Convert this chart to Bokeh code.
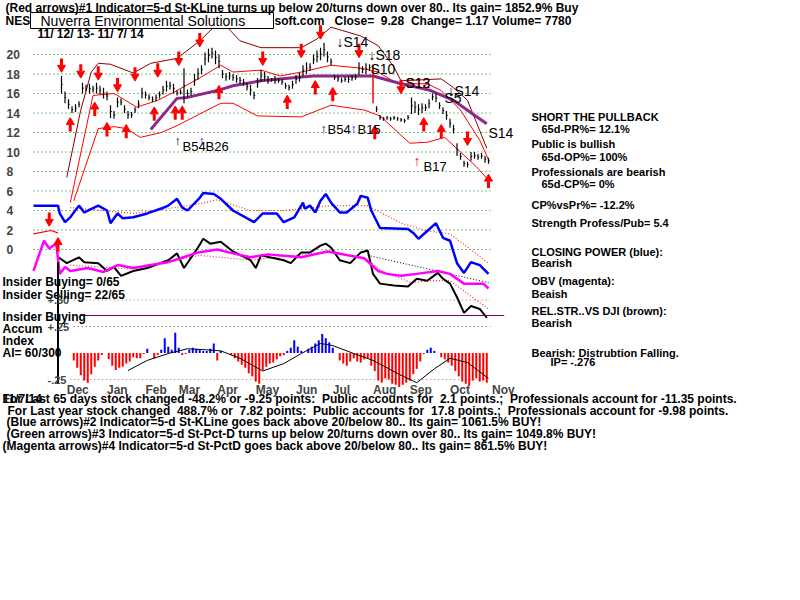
from bokeh.plotting import figure
from bokeh.models import Range1d, Label, LabelSet, ColumnDataSource
from bokeh.embed import file_html
from bokeh.resources import INLINE
from bokeh.core.properties import value

# ---------------- data (x = trading-day index, price panel in $) ----------------
bar_first_day = 16
bar_step = 2
price_low_high = [
    (16.0, 17.8), (15.0, 16.2), (14.4, 15.4), (14.0, 14.7), (14.1, 14.9), (14.6, 15.2), (16.0, 17.1), (16.2, 16.9),
    (16.0, 17.0), (16.1, 16.8), (16.0, 17.1), (15.9, 16.8), (15.5, 16.6), (15.3, 16.2), (13.5, 14.8), (13.4, 14.2),
    (14.6, 15.6), (14.8, 15.5), (14.0, 14.8), (13.4, 14.2), (13.5, 14.1), (14.0, 14.6), (14.5, 15.3), (15.5, 16.6),
    (15.5, 16.2), (15.3, 15.9), (15.1, 15.7), (15.2, 15.9), (15.5, 16.2), (15.9, 16.8), (16.2, 17.3), (16.4, 17.2),
    (16.0, 17.0), (15.8, 16.3), (15.9, 16.4), (15.0, 18.6), (15.6, 16.4), (15.8, 16.6), (16.8, 18.0), (17.4, 18.6),
    (18.0, 18.9), (18.9, 20.2), (19.2, 20.6), (19.6, 20.7), (19.0, 20.4), (18.6, 20.0), (17.6, 18.4), (17.3, 18.1),
    (17.4, 18.2), (17.3, 18.0), (17.1, 17.9), (17.0, 17.7), (16.8, 17.5), (16.3, 17.1), (15.8, 16.9), (15.4, 16.2),
    (16.6, 17.6), (17.2, 18.4), (17.3, 18.2), (17.0, 17.8), (17.2, 17.6), (17.0, 17.8), (17.1, 17.6), (16.9, 17.5),
    (16.5, 17.1), (16.3, 16.9), (16.5, 17.3), (17.0, 17.9), (17.2, 18.1), (17.8, 18.9), (18.0, 19.2), (18.3, 19.1),
    (19.0, 20.0), (19.2, 20.4), (19.4, 20.7), (19.8, 21.2), (19.2, 20.3), (18.9, 19.6), (17.4, 17.9), (17.2, 17.8),
    (17.1, 17.6), (17.2, 17.7), (17.1, 17.8), (17.3, 17.9), (17.4, 18.0), (17.9, 19.2), (18.1, 18.8), (18.0, 19.1),
    (18.3, 19.0), (18.2, 18.9), (14.1, 14.7), (13.3, 13.8), (13.2, 13.6), (13.3, 13.7), (13.2, 13.6), (13.3, 13.7),
    (13.2, 13.6), (13.1, 13.5), (13.0, 13.4), (13.3, 13.8), (13.9, 15.6), (14.0, 15.2), (13.8, 14.9), (14.0, 15.0),
    (14.2, 14.9), (14.5, 15.4), (15.3, 16.0), (15.1, 16.0), (14.4, 15.1), (13.9, 14.6), (13.3, 14.2), (12.5, 13.4),
    (11.9, 12.8), (9.6, 10.9), (9.2, 9.9), (8.5, 9.1), (8.4, 9.0), (9.1, 10.0), (9.3, 10.0), (9.2, 9.8),
    (9.3, 9.9), (8.9, 9.6), (8.8, 9.4),
]

band_outer = [(19, 7.4), (27, 14.3), (33, 18.2), (37, 19.1), (44, 19.0), (57, 18.1), (67, 19.1), (82, 19.6),
              (95, 21.4), (107, 23.5), (118, 21.4), (130, 20.7), (153, 20.7), (162, 21.6), (170, 22.8),
              (187, 21.9), (197, 20.9), (206, 18.7), (210, 17.3), (233, 17.5), (240, 16.6), (248, 15.3), (259, 10.4)]
band_mid = [(21, 4.8), (34, 15.8), (46, 16.0), (59, 14.6), (71, 15.3), (82, 16.3), (95, 17.6), (107, 18.9),
            (114, 18.2), (130, 18.4), (141, 17.8), (153, 18.2), (170, 18.9), (187, 18.6), (197, 18.2),
            (208, 17.0), (225, 17.0), (233, 16.3), (244, 14.3), (255, 11.2), (260, 9.2)]
band_low = [(23, 5.0), (37, 12.4), (46, 12.6), (53, 12.4), (61, 11.5), (73, 12.0), (82, 12.7), (95, 13.9),
            (107, 15.0), (114, 15.0), (128, 13.7), (153, 13.6), (170, 14.8), (189, 14.3), (198, 13.7),
            (215, 10.9), (225, 11.0), (235, 11.5), (244, 10.0), (253, 8.5), (260, 7.1)]
ma_purple = [(67, 12.3), (82, 15.5), (88, 15.6), (105, 16.3), (114, 16.8), (130, 17.3), (153, 17.7), (160, 17.8),
             (179, 17.8), (194, 17.8), (208, 17.1), (227, 16.3), (240, 15.3), (251, 13.9), (259, 12.9)]

closing_power = [(0, 4.5), (14, 4.5), (15, 3.7), (18, 2.8), (21, 3.3), (26, 4.5), (29, 3.8), (37, 4.5), (42, 4.0),
                 (44, 2.7), (48, 3.7), (51, 3.2), (57, 3.3), (65, 3.7), (73, 4.2), (77, 4.5), (82, 5.2), (85, 4.3),
                 (88, 4.0), (95, 5.3), (97, 5.8), (103, 5.7), (107, 5.2), (114, 4.0), (126, 2.8), (131, 3.7),
                 (139, 3.7), (143, 2.8), (149, 3.3), (154, 4.8), (155, 4.2), (158, 4.5), (161, 3.8), (164, 5.0),
                 (167, 5.7), (170, 4.8), (175, 3.8), (179, 3.8), (185, 4.7), (187, 5.5), (191, 5.3), (193, 4.0),
                 (198, 2.2), (214, 2.1), (217, 1.7), (220, 1.1), (225, 1.9), (230, 2.7), (234, 1.2), (238, 0.9),
                 (242, -1.4), (246, -2.4), (250, -1.3), (255, -1.6), (260, -2.5)]
closing_power_ma = [(21, 4.3), (57, 3.7), (77, 4.2), (95, 4.7), (105, 5.1), (124, 4.0), (143, 4.0), (170, 4.5),
                    (191, 4.5), (210, 2.7), (225, 1.9), (238, 1.6), (260, -1.4)]
obv = [(0, -2.2), (6, 0.9), (9, 0.1), (13, 0.6), (15, -2.5), (18, -1.8), (21, -2.2), (31, -1.9), (40, -2.3),
       (48, -1.6), (57, -1.9), (67, -1.6), (77, -1.3), (84, -0.9), (94, -0.3), (105, 0.0), (114, -0.4),
       (124, -0.8), (134, -0.5), (153, -0.8), (168, -0.2), (189, -0.9), (197, -2.2), (202, -2.5), (210, -2.7),
       (219, -2.5), (231, -2.2), (238, -2.5), (246, -3.5), (257, -3.5), (260, -4.0)]
obv_ma = [(191, -0.6), (260, -3.4)]
rel_strength = [(14, -0.8), (15, -0.9), (19, -1.4), (26, -0.8), (29, -1.3), (37, -1.4), (42, -2.2), (46, -1.8),
                (50, -2.7), (57, -2.2), (65, -1.9), (77, -1.1), (82, -0.4), (86, -1.9), (94, 0.2), (97, 1.1),
                (101, 0.6), (107, 0.8), (114, -0.2), (124, -1.1), (127, -1.9), (130, -0.6), (135, -0.8),
                (143, -1.1), (147, -1.4), (153, -0.3), (158, -0.3), (164, 0.4), (167, 0.6), (170, 0.2),
                (175, -1.1), (181, -1.4), (187, -0.3), (191, -0.1), (194, -2.5), (198, -3.5), (206, -3.7),
                (214, -3.8), (219, -3.0), (225, -3.2), (231, -2.4), (234, -3.0), (238, -3.5), (242, -4.9),
                (246, -6.5), (250, -5.8), (255, -6.1), (259, -7.0)]
rel_strength_ma = [(21, -1.6), (57, -2.0), (95, -0.6), (124, -1.1), (170, -0.2), (191, -1.1), (200, -2.3),
                   (216, -3.4), (227, -3.2), (238, -3.2), (260, -6.1)]
small_red = [(0, 1.6), (10, 1.95), (14, 1.7)]
rs_base = [(27, -6.77), (269, -6.77)]
insider_marker = [(14, -1.3), (14, -13.7)]
signal_line = [(194, 18.7), (194, 15.0)]

red_down = [(16, 19.0), (27, 18.4), (37, 18.2), (48, 17.0), (58, 18.1), (71, 18.5), (83, 19.7), (95, 21.6),
            (131, 19.7), (153, 20.5), (164, 22.4), (186, 20.5), (210, 16.8), (248, 11.5), (9, 3.2)]
red_up = [(21, 12.7), (35, 14.3), (42, 12.2), (53, 12.0), (69, 13.8), (81, 13.9), (85, 13.9), (106, 16.0),
          (145, 15.0), (161, 16.5), (171, 15.8), (195, 11.9), (223, 12.7), (233, 12.0), (260, 6.9), (14, 0.4)]

ai_first_day = 21
ai_values = [
    0.00, -0.07, -0.14, -0.21, -0.26, -0.28, -0.20, -0.13, -0.07, -0.02,
    0.00, -0.06, -0.12, -0.16, -0.14, -0.13, -0.10, -0.08, -0.04, -0.05,
    -0.05, -0.01, 0.04, 0.00, -0.05, -0.02, 0.03, 0.14, 0.06, 0.03,
    0.19, 0.05, -0.02, -0.01, 0.03, 0.05, 0.04, 0.03, 0.02, 0.02,
    0.04, 0.09, -0.07, 0.02, 0.00, 0.00, -0.02, -0.05, -0.08, -0.11,
    -0.14, -0.19, -0.22, -0.27, -0.29, -0.16, -0.13, -0.10, -0.09, -0.06,
    -0.03, -0.02, 0.02, 0.05, 0.12, 0.06, 0.02, 0.00, 0.04, 0.06,
    0.09, 0.12, 0.18, 0.14, 0.10, 0.05, 0.00, -0.07, -0.10, -0.12,
    -0.08, -0.05, -0.08, -0.09, -0.06, -0.05, -0.12, -0.17, -0.26, -0.28,
    -0.24, -0.25, -0.29, -0.30, -0.32, -0.30, -0.28, -0.26, -0.20, -0.15,
    -0.08, -0.01, 0.03, 0.05, 0.02, 0.00, -0.04, -0.06, -0.09, -0.12,
    -0.17, -0.22, -0.27, -0.29, -0.31, -0.26, -0.24, -0.27, -0.26, -0.28,
]
ai_ma = [(54, -0.165), (65, -0.07), (77, -0.005), (88, 0.04), (99, 0.03), (107, 0.02), (118, -0.05),
         (131, -0.17), (143, -0.10), (153, -0.005), (164, 0.09), (171, 0.07), (183, -0.005), (194, -0.07),
         (210, -0.21), (219, -0.28), (229, -0.15), (238, -0.05), (248, -0.09), (260, -0.24)]

price_ticks = [20, 18, 16, 14, 12, 10, 8, 6, 4, 2, 0]
price_tick_labels = ["20", "18", "16", "14", "12", "10", "8", "6", "4", "2", "0"]
ai_ticks = [0.5, 0.25, -0.25]
ai_tick_labels = ["+.50", "+.25", "-.25"]
month_labels = ["Dec", "Jan", "Feb", "Mar", "Apr", "May", "Jun", "Jul", "Aug", "Sep", "Oct", "Nov"]
month_label_day = [19, 42, 64, 83, 105, 127, 150, 171, 194, 215, 238, 262]
grid_first_day, grid_last_day = 0, 261

# ---------------- layout constants ----------------
W, H = 784, 584
FONT = "Liberation Sans"
X0, XPX = 33, 1.75        # screen x of day 0, pixels per day
Y0, YPX = 249, 9.75       # screen y (from top) of price 0, pixels per $
A0, APX = 352.5, 106.0    # screen y (from top) of AI 0, pixels per AI unit


def xs(pts):
    return [a for a, _ in pts]


def ys(pts):
    return [b for _, b in pts]


p = figure(width=W, height=H, output_backend="svg", toolbar_location=None,
           x_axis_location=None, y_axis_location=None, min_border=0,
           x_range=Range1d(-X0 / XPX, (W - X0) / XPX),
           y_range=Range1d((Y0 - H) / YPX, Y0 / YPX))
p.extra_y_ranges = {"ai": Range1d((A0 - H) / APX, A0 / APX)}
p.outline_line_color = None
p.xgrid.visible = False
p.ygrid.visible = False
p.background_fill_color = "white"
p.border_fill_color = "white"

# green dotted gridlines for the price scale
p.segment(x0=[grid_first_day] * len(price_ticks), x1=[grid_last_day] * len(price_ticks),
          y0=price_ticks, y1=price_ticks, line_color="#008000", line_dash="1 3", line_width=1)

# AI reference lines
p.segment(x0=[23, 23, 21], x1=[grid_last_day] * 3, y0=ai_ticks, y1=ai_ticks, y_range_name="ai",
          line_color=["#c86464", "#505050", "#c86464"], line_dash="1 3", line_width=1)

# bands and MA
p.line(xs(band_outer), ys(band_outer), line_color="#8b0000", line_width=1)
p.line(xs(band_mid), ys(band_mid), line_color="#ff0000", line_width=1)
p.line(xs(band_low), ys(band_low), line_color="#ff0000", line_width=1)
p.line(xs(ma_purple), ys(ma_purple), line_color="#8b2a8b", line_width=3)

# price bars
bar_day = [bar_first_day + bar_step * i for i in range(len(price_low_high))]
p.segment(x0=bar_day, x1=bar_day, y0=[lo for lo, _ in price_low_high], y1=[hi for _, hi in price_low_high],
          line_color="black", line_width=1.2)
p.segment(x0=bar_day, x1=[d + 0.7 for d in bar_day],
          y0=[(lo + hi) / 2 for lo, hi in price_low_high], y1=[(lo + hi) / 2 for lo, hi in price_low_high],
          line_color="black", line_width=1)

# indicator lines
p.line(xs(closing_power_ma), ys(closing_power_ma), line_color="#ff3030", line_dash="1 2", line_width=1.2)
p.line(xs(closing_power), ys(closing_power), line_color="#0000ff", line_width=2.5)
p.line(xs(rel_strength_ma), ys(rel_strength_ma), line_color="#ff3030", line_dash="1 2", line_width=1.2)
p.line(xs(obv_ma), ys(obv_ma), line_color="black", line_dash="1 2", line_width=1)
p.line(xs(rel_strength), ys(rel_strength), line_color="black", line_width=2)
p.line(xs(obv), ys(obv), line_color="#ff00ff", line_width=2.5)
p.line(xs(small_red), ys(small_red), line_color="#ff0000", line_width=1.2)
p.line(xs(rs_base), ys(rs_base), line_color="#800060", line_width=1.2)
p.line(xs(insider_marker), ys(insider_marker), line_color="black", line_width=2)
p.line(xs(signal_line), ys(signal_line), line_color="#ff0000", line_width=1.5)

# AI histogram
ai_day = [ai_first_day + 2 * i for i in range(len(ai_values))]
p.segment(x0=ai_day, x1=ai_day, y0=[0] * len(ai_values), y1=ai_values, y_range_name="ai",
          line_color=["#ff0000" if v < 0 else "#0000ff" for v in ai_values], line_width=2)
p.line(xs(ai_ma), ys(ai_ma), y_range_name="ai", line_color="black", line_width=1)

# red signal arrows
p.segment(x0=xs(red_down), x1=xs(red_down), y0=[v + 0.6 for v in ys(red_down)],
          y1=[v - 0.1 for v in ys(red_down)], line_color="#ff0000", line_width=3)
p.scatter(xs(red_down), [v - 0.35 for v in ys(red_down)], marker="inverted_triangle", size=8,
          fill_color="#ff0000", line_color="#ff0000")
p.segment(x0=xs(red_up), x1=xs(red_up), y0=[v - 0.6 for v in ys(red_up)],
          y1=[v + 0.1 for v in ys(red_up)], line_color="#ff0000", line_width=3)
p.scatter(xs(red_up), [v + 0.35 for v in ys(red_up)], marker="triangle", size=8,
          fill_color="#ff0000", line_color="#ff0000")

# company name box (screen pixels 30..273 x 12..28)
p.quad(left=[(30 - X0) / XPX], right=[(273 - X0) / XPX], top=[(Y0 - 12) / YPX], bottom=[(Y0 - 28) / YPX],
       fill_color="white", line_color="black", line_width=1)

# axis tick labels
p.add_layout(LabelSet(x=6, y="y", text="t", x_units="screen", source=ColumnDataSource(
    dict(y=price_ticks, t=price_tick_labels)), text_font=value(FONT), text_font_size=value("12px"),
    text_font_style=value("bold"), text_baseline=value("middle")))
p.add_layout(LabelSet(x=47, y="y", text="t", x_units="screen", y_range_name="ai", source=ColumnDataSource(
    dict(y=ai_ticks, t=ai_tick_labels)), text_font=value(FONT), text_font_size=value("11px"),
    text_font_style=value("bold"), text_baseline=value("middle")))
p.add_layout(LabelSet(x="x", y=-0.345, text="t", y_range_name="ai", source=ColumnDataSource(
    dict(x=month_label_day, t=month_labels)), text_font=value(FONT), text_font_size=value("12px"),
    text_font_style=value("bold"), text_baseline=value("middle")))


def put(text, px, py, size="11px", style="bold", color="black"):
    text = text.replace("  ", " \u00a0")
    p.add_layout(Label(x=px, y=H - py, x_units="screen", y_units="screen", text=text,
                       text_font=FONT, text_font_size=size, text_font_style=style, text_color=color,
                       text_baseline="middle", text_align="left"))


# header
put("(Red arrows)#1 Indicator=5-d St-KLine turns up below 20/turns down over 80.. Its gain= 1852.9% Buy", 5, 7, size="12px")
put("NES", 5, 20, size="12px")
put("soft.com   Close=  9.28  Change= 1.17 Volume= 7780", 274, 20, size="12px")
put("Nuverra Environmental Solutions", 40, 20, size="14px", style="normal")
put("11/ 12/ 13- 11/ 7/ 14", 37, 33, size="12px")

# signal labels
for t, px, py, col, sz in [
    ("\u2193S14", 336, 41, "black", "14px"), ("\u2193S18", 368, 54, "black", "14px"),
    ("S10", 370, 68, "black", "14px"), ("S12", 405, 82, "#cc0000", "14px"), ("S13", 405, 82, "black", "14px"),
    ("\u2193S14", 447, 90, "black", "14px"), ("S5", 444, 97, "black", "14px"), ("S14", 488, 132, "black", "14px"),
    ("\u2191", 320, 128, "black", "13px"), ("B54", 327, 129, "black", "13px"),
    ("\u2191", 350, 128, "#0000ff", "13px"), ("B15", 357, 129, "black", "13px"),
    ("\u2191", 413, 160, "#ff0000", "14px"), ("B17", 423, 166, "black", "13px"),
    ("\u2191", 174, 140, "black", "13px"), ("B54", 182, 146, "black", "13px"),
    ("\u2191", 198, 140, "#0000ff", "13px"), ("B26", 205, 146, "black", "13px"),
]:
    put(t, px, py, size=sz, style="normal", color=col)

# right-hand commentary
for t, px, py in [
    ("SHORT THE PULLBACK", 531, 116), ("65d-PR%= 12.1%", 541, 128),
    ("Public is bullish", 531, 143), ("65d-OP%= 100%", 541, 156),
    ("Professionals are bearish", 531, 171), ("65d-CP%= 0%", 541, 183),
    ("CP%vsPr%= -12.2%", 531, 204), ("Strength Profess/Pub= 5.4", 531, 222),
    ("CLOSING POWER (blue):", 531, 251), ("Bearish", 531, 262),
    ("OBV (magenta):", 531, 280), ("Beaish", 531, 293),
    ("REL.STR..VS DJI (brown):", 531, 310), ("Bearish", 531, 322),
    ("Bearish: Distrubtion Falling.", 531, 352), ("IP= -.276", 550, 361),
]:
    put(t, px, py)

# left commentary
for t, px, py in [
    ("Insider Buying= 0/65", 2, 281), ("Insider Selling= 22/65", 2, 294),
    ("Insider Buying", 2, 316), ("Accum", 2, 328), ("Index", 2, 340), ("AI= 60/300", 2, 352),
]:
    put(t, px, py, size="12px")

# footer
for t, px, py in [
    ("11/7/14", 2, 398),
    ("For Last 65 days stock changed -48.2% or -9.25 points:  Public accounts for  2.1 points.;  Professionals account for -11.35 points.", 2, 398),
    ("For Last year stock changed  488.7% or  7.82 points:  Public accounts for  17.8 points.;  Professionals account for -9.98 points.", 7, 410),
    ("(Blue arrows)#2 Indicator=5-d St-KLine goes back above 20/below 80.. Its gain= 1061.5% BUY!", 6, 421),
    ("(Green arrows)#3 Indicator=5-d St-Pct-D turns up below 20/turns down over 80.. Its gain= 1049.8% BUY!", 6, 433),
    ("(Magenta arrows)#4 Indicator=5-d St-PctD goes back above 20/below 80.. Its gain= 861.5% BUY!", 2, 445),
]:
    put(t, px, py, size="12px")

open("out.html", "w").write(file_html(p, INLINE))
